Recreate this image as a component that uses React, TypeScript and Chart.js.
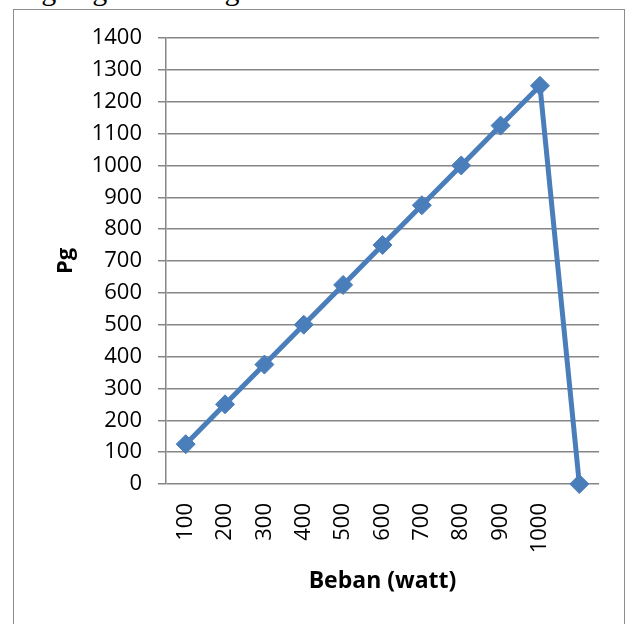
import React, { useEffect, useRef } from 'react';
import { Chart, registerables } from 'chart.js';

Chart.register(...registerables);

const categories: string[] = ['100', '200', '300', '400', '500', '600', '700', '800', '900', '1000', ''];
const pgValues: number[] = [125, 250, 375, 500, 625, 750, 875, 1000, 1125, 1250, 0];
const yMin = 0;
const yMax = 1400;
const yStep = 100;
const xTitle = 'Beban (watt)';
const yTitle = 'Pg';
const headerText = 'dengan grafik sebagai berikut :';

const LINE_COLOR = '#4a7ebb';
const GRID_COLOR = '#868686';
const FONT = "'Open Sans', 'Liberation Sans', sans-serif";

export default function App() {
  const canvasRef = useRef<HTMLCanvasElement | null>(null);

  useEffect(() => {
    if (!canvasRef.current) return;
    const chart = new Chart(canvasRef.current, {
      type: 'line',
      data: {
        labels: categories,
        datasets: [
          {
            data: pgValues,
            borderColor: LINE_COLOR,
            backgroundColor: LINE_COLOR,
            borderWidth: 5,
            pointStyle: 'rectRot',
            pointRadius: 9.5,
            pointBackgroundColor: LINE_COLOR,
            pointBorderColor: LINE_COLOR,
            pointBorderWidth: 1,
            tension: 0,
            clip: false as any,
          },
        ],
      },
      options: {
        responsive: false,
        animation: false,
        layout: { padding: { left: 49, right: 29, top: 38, bottom: 25 } },
        plugins: { legend: { display: false }, tooltip: { enabled: false } },
        scales: {
          x: {
            offset: true,
            grid: { display: false, drawTicks: false },
            border: { display: false },
            ticks: {
              color: '#000',
              font: { family: FONT, size: 22 },
              maxRotation: 90,
              minRotation: 90,
              padding: 19,
              autoSkip: false,
            },
            title: {
              display: true,
              text: xTitle,
              color: '#000',
              font: { family: FONT, size: 23, weight: 'bold' },
              padding: 4,
            },
            afterFit: (scale: any) => {
              scale.height = 115;
            },
          },
          y: {
            min: yMin,
            max: yMax,
            grid: { color: GRID_COLOR, lineWidth: 1.5, tickLength: 8, drawTicks: true },
            border: { display: true, color: GRID_COLOR, width: 1.5 },
            ticks: {
              stepSize: yStep,
              color: '#000',
              font: { family: FONT, size: 22 },
              padding: 16,
              callback: (v: any) => String(v),
            },
            title: {
              display: true,
              text: yTitle,
              color: '#000',
              font: { family: FONT, size: 22, weight: 'bold' },
              padding: 4,
            },
            afterFit: (scale: any) => {
              scale.width = 117;
            },
          },
        },
      },
    });
    return () => chart.destroy();
  }, []);

  return (
    <div
      style={{
        position: 'fixed',
        left: 0,
        top: 0,
        width: 628,
        height: 624,
        overflow: 'hidden',
        background: '#fff',
      }}
    >
      <div
        style={{
          position: 'absolute',
          left: -2,
          top: -25,
          whiteSpace: 'nowrap',
          fontFamily: "'Liberation Serif', 'Times New Roman', serif",
          fontSize: 30,
          lineHeight: '30px',
          color: '#000',
        }}
      >
        {headerText}
      </div>
      <div
        style={{
          position: 'absolute',
          left: 13,
          top: 9,
          width: 612,
          height: 640,
          border: '1.5px solid #8c8c8c',
          boxSizing: 'border-box',
        }}
      />
      <canvas
        ref={canvasRef}
        width={628}
        height={624}
        style={{ position: 'absolute', left: 0, top: 0, display: 'block' }}
      />
    </div>
  );
}
